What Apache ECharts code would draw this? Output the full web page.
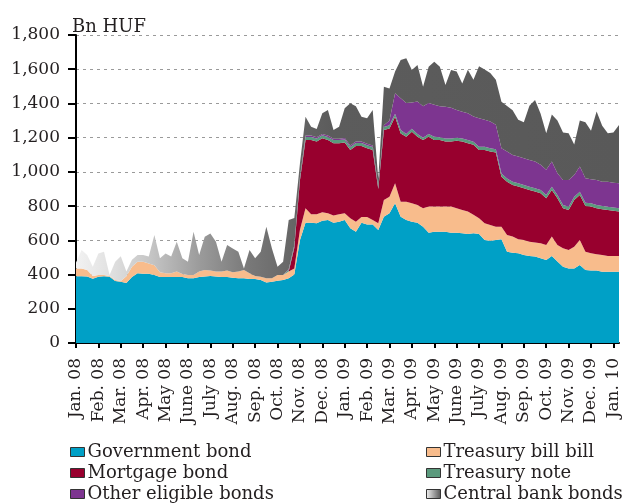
<!DOCTYPE html>
<html>
<head>
<meta charset="utf-8">
<script src="https://cdn.jsdelivr.net/npm/echarts@6/dist/echarts.min.js"></script>
<style>
html,body{margin:0;padding:0;background:#fff;}
#chart{width:624px;height:503px;}
</style>
</head>
<body>
<div id="chart"></div>
<script>
// Month tick labels (one tick per month, 4 weekly points per month)
var monthLabels = ["Jan. 08","Feb. 08","Mar. 08","Apr. 08","May 08","June 08","July 08","Aug. 08","Sep. 08","Oct. 08","Nov. 08","Dec. 08",
  "Jan. 09","Feb. 09","Mar. 09","Apr. 09","May 09","June 09","July 09","Aug. 09","Sep. 09","Oct. 09","Nov. 09","Dec. 09","Jan. 10"];
var pointsPerMonth = 4;
var yTicks = [0,200,400,600,800,1000,1200,1400,1600,1800];
var seriesNames = ["Government bond","Treasury bill bill","Mortgage bond","Treasury note","Other eligible bonds","Central bank bonds"];

// Bn HUF, approximately weekly readings
var governmentBond = [390,390,388,375,387,390,387,362,358,350,385,408,405,405,397,385,385,385,385,385,
  378,378,385,388,392,388,385,385,382,378,378,374,374,368,353,358,364,368,378,400,
  600,
  703,703,700,715,719,703,709,719,670,650,703,692,692,
  660,
  738,758,816,738,719,709,703,680,645,650,650,650,645,645,
  641,637,641,637,602,598,602,606,534,528,524,515,509,505,495,485,509,476,446,436,
  436,456,427,423,423,417,417,417,417];
var treasuryBill = [46,46,38,16,10,7,5,6,4,40,61,67,70,60,58,28,23,23,33,18,
  19,19,33,38,31,30,33,38,31,40,48,33,17,19,25,20,33,29,40,36,
  60,
  84,49,52,49,39,42,43,39,59,59,33,44,27,
  40,
  98,97,117,88,107,107,104,107,152,147,147,147,152,142,
  136,131,108,92,98,92,78,74,97,94,82,87,83,82,88,88,113,97,108,108,
  127,146,107,101,95,98,92,92,92];
var mortgageBond = [0,0,0,0,0,0,0,0,0,0,0,0,0,0,0,0,0,0,0,0,
  0,0,0,0,0,0,0,0,0,0,0,0,0,0,0,0,0,0,0,120,
  290,
  399,434,425,432,428,423,416,414,399,442,415,402,409,
  200,
  409,399,389,399,379,419,398,399,408,389,389,380,380,395,
  400,400,409,399,428,429,433,292,312,302,308,302,302,298,292,273,272,273,233,233,
  273,263,267,273,269,266,268,264,259];
var treasuryNote = [0,0,0,0,0,0,0,0,0,0,0,0,0,0,0,0,0,0,0,0,
  0,0,0,0,0,0,0,0,0,0,0,0,0,0,0,0,0,0,10,10,
  12,
  18,18,18,18,18,18,18,18,18,18,18,18,18,
  10,
  18,18,18,20,17,17,17,14,17,19,17,18,18,18,
  18,18,18,19,19,19,19,19,19,19,19,19,19,19,19,19,19,19,19,19,
  19,19,19,19,19,19,19,19,19];
var otherEligible = [0,0,0,0,0,0,0,0,0,0,0,0,0,0,0,0,0,0,0,0,
  0,0,0,0,0,0,0,0,0,0,0,0,0,0,0,0,0,0,5,5,
  5,
  8,8,8,8,8,8,8,8,8,8,8,8,8,
  5,
  10,28,119,185,180,153,190,183,180,187,180,185,180,162,
  157,157,148,167,157,156,143,147,157,156,157,157,157,157,147,147,148,127,147,157,
  127,147,143,141,147,143,147,145,146];
var centralBankBonds = [34,107,88,55,126,137,5,107,145,28,40,39,40,40,176,82,115,97,174,92,
  78,253,96,195,217,174,57,150,140,116,10,136,104,147,302,175,49,78,286,160,
  80,
  110,52,47,120,150,51,70,174,247,206,145,149,208,
  45,
  225,188,127,224,262,191,213,115,213,252,232,128,221,224,
  165,254,215,303,294,284,264,272,266,261,215,210,316,359,299,214,274,308,277,273,
  178,269,327,283,400,327,283,293,341];

var categories = [];
monthLabels.forEach(function (m) {
  for (var w = 0; w < pointsPerMonth; w++) categories.push(w === 0 ? m : m + " w" + (w + 1));
});
categories = categories.slice(0, governmentBond.length);

var FONT = "DejaVu Serif";
var TXT = "#231f20";
var colors = ["#00A0C6", "#F8BC8C", "#98002E", "#5B9A7D", "#7D3590"];
var cbGradient = new echarts.graphic.LinearGradient(0, 0, 1, 0, [
  {offset: 0, color: "#f2f2f2"},
  {offset: 0.06, color: "#e2e2e2"},
  {offset: 0.14, color: "#c4c4c4"},
  {offset: 0.23, color: "#9a9a9a"},
  {offset: 0.32, color: "#787878"},
  {offset: 0.40, color: "#666666"},
  {offset: 0.47, color: "#5c5c5c"},
  {offset: 1, color: "#595959"}
]);
var legendGradient = new echarts.graphic.LinearGradient(0, 0, 1, 0, [
  {offset: 0, color: "#f4f4f4"},
  {offset: 1, color: "#555555"}
]);

var dataList = [governmentBond, treasuryBill, mortgageBond, treasuryNote, otherEligible, centralBankBonds];
var series = dataList.map(function (d, i) {
  var fill = i < 5 ? colors[i] : cbGradient;
  return {
    name: seriesNames[i],
    type: "line",
    stack: "total",
    data: d,
    symbol: "none",
    showSymbol: false,
    lineStyle: {width: 0},
    itemStyle: {color: i < 5 ? colors[i] : "#8a8a8a"},
    areaStyle: {color: fill, opacity: 1},
    emphasis: {disabled: true},
    z: 2
  };
});

function legendItem(i) {
  return {name: seriesNames[i], itemStyle: {color: i < 5 ? colors[i] : legendGradient}};
}

function makeLegend(left, idxs) {
  return {
    orient: "vertical", left: left, top: 438, height: 90, width: 220, itemGap: 3,
    itemWidth: 14, itemHeight: 9, icon: "rect",
    itemStyle: {borderColor: "#333", borderWidth: 1},
    textStyle: {fontFamily: FONT, fontSize: 18, color: TXT, padding: [0, 0, 0, -2]},
    data: idxs.map(legendItem)
  };
}

var chart = echarts.init(document.getElementById("chart"), null, {renderer: "canvas"});
chart.setOption({
  animation: false,
  backgroundColor: "#ffffff",
  title: {
    text: "Bn HUF", left: 67, top: 13,
    textStyle: {fontFamily: FONT, fontSize: 18, fontWeight: "normal", color: TXT}
  },
  grid: {left: 76, right: 5, top: 35, bottom: 160, containLabel: false},
  legend: [makeLegend(65, [0, 2, 4]), makeLegend(421, [1, 3, 5])],
  xAxis: {
    type: "category",
    boundaryGap: false,
    data: categories,
    axisLine: {lineStyle: {color: "#000", width: 2}},
    axisTick: {
      length: 5, lineStyle: {color: "#000", width: 2},
      interval: function (idx) { return idx % pointsPerMonth === 0; }
    },
    axisLabel: {
      rotate: 90, margin: 15,
      interval: function (idx) { return idx % pointsPerMonth === 0; },
      formatter: function (v) { return v; },
      fontFamily: FONT, fontSize: 17, color: TXT
    },
    splitLine: {show: false}
  },
  yAxis: {
    type: "value",
    min: 0, max: 1800, interval: 200,
    axisLine: {show: true, lineStyle: {color: "#000", width: 2}},
    axisTick: {show: true, length: 8, lineStyle: {color: "#000", width: 2}},
    axisLabel: {
      margin: 16, fontFamily: FONT, fontSize: 17, color: TXT,
      formatter: function (v) { return yTicks.indexOf(v) >= 0 ? v.toLocaleString("en-US") : ""; }
    },
    splitLine: {show: true, lineStyle: {color: "#9a9a9a", width: 1, type: [3, 4]}}
  },
  series: series
});
</script>
</body>
</html>
